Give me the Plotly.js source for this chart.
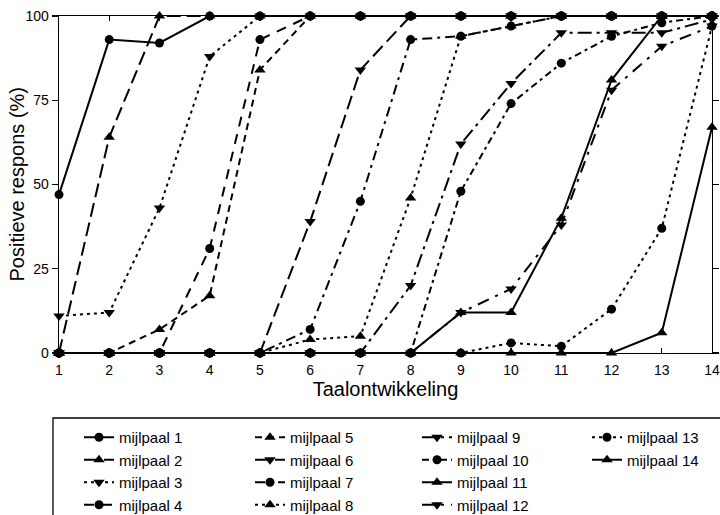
<!DOCTYPE html>
<html>
<head>
<meta charset="utf-8">
<script src="https://cdn.plot.ly/plotly-3.0.1.min.js"></script>
<style>html,body{margin:0;padding:0;background:#fff;}#chart{width:720px;height:515px;}</style>
</head>
<body>
<div id="chart"></div>
<script>
// Data
const stages = [1, 2, 3, 4, 5, 6, 7, 8, 9, 10, 11, 12, 13, 14];
const seriesNames = ["mijlpaal 1","mijlpaal 2","mijlpaal 3","mijlpaal 4","mijlpaal 5","mijlpaal 6","mijlpaal 7","mijlpaal 8","mijlpaal 9","mijlpaal 10","mijlpaal 11","mijlpaal 12","mijlpaal 13","mijlpaal 14"];
const m1  = [47, 93, 92, 100, 100, 100, 100, 100, 100, 100, 100, 100, 100, 100];
const m2  = [0, 64, 100, 100, 100, 100, 100, 100, 100, 100, 100, 100, 100, 100];
const m3  = [11, 12, 43, 88, 100, 100, 100, 100, 100, 100, 100, 100, 100, 100];
const m4  = [0, 0, 0, 31, 93, 100, 100, 100, 100, 100, 100, 100, 100, 100];
const m5  = [0, 0, 7, 17, 84, 100, 100, 100, 100, 100, 100, 100, 100, 100];
const m6  = [0, 0, 0, 0, 0, 39, 84, 100, 100, 100, 100, 100, 100, 100];
const m7  = [0, 0, 0, 0, 0, 7, 45, 93, 94, 97, 100, 100, 100, 100];
const m8  = [0, 0, 0, 0, 0, 4, 5, 46, 94, 97, 100, 100, 100, 100];
const m9  = [0, 0, 0, 0, 0, 0, 0, 20, 62, 80, 95, 95, 95, 99];
const m10 = [0, 0, 0, 0, 0, 0, 0, 0, 48, 74, 86, 94, 98, 100];
const m11 = [0, 0, 0, 0, 0, 0, 0, 0, 12, 12, 40, 81, 100, 100];
const m12 = [0, 0, 0, 0, 0, 0, 0, 0, 12, 19, 38, 78, 91, 97];
const m13 = [0, 0, 0, 0, 0, 0, 0, 0, 0, 3, 2, 13, 37, 97];
const m14 = [0, 0, 0, 0, 0, 0, 0, 0, 0, 0, 0, 0, 6, 67];
const seriesValues = [m1, m2, m3, m4, m5, m6, m7, m8, m9, m10, m11, m12, m13, m14];
const yTickVals = [0, 25, 50, 75, 100];
const xTitle = "Taalontwikkeling";
const yTitle = "Positieve respons (%)";

// Styles
const dashes = ["solid","14px,6px","3px,4px","10px,8px","7px,5px","14px,6px","10px,5px,3px,5px","3px,4px","14px,5px,3px,5px","7px,4px,3px,4px","solid","12px,7px,3px,7px","3px,4px","solid"];
const symbols = ["circle","triangle-up","triangle-down","circle","triangle-up","triangle-down","circle","triangle-up","triangle-down","circle","triangle-up","triangle-down","circle","triangle-up"];
const legendOf = ["legend","legend","legend","legend","legend2","legend2","legend2","legend2","legend3","legend3","legend3","legend3","legend4","legend4"];

const FONT = "Liberation Sans, Arial, sans-serif";

const traces = seriesNames.map((name, i) => ({
  type: "scatter",
  mode: "lines+markers",
  name: name,
  x: stages,
  y: seriesValues[i],
  legend: legendOf[i],
  cliponaxis: false,
  line: {color: "#000", width: 2, dash: dashes[i]},
  marker: {color: "#000", symbol: symbols[i], size: symbols[i] === "circle" ? 9 : 10}
}));

function leg(xpx, ypx) {
  return {
    x: xpx / 720, y: 1 - ypx / 515, xref: "container", yref: "container",
    xanchor: "left", yanchor: "top", orientation: "v",
    bgcolor: "rgba(0,0,0,0)", borderwidth: 0, tracegroupgap: 0,
    font: {family: FONT, size: 15, color: "#000"}
  };
}

const layout = {
  width: 720, height: 515,
  margin: {l: 59, r: 8, t: 16, b: 162, autoexpand: false},
  paper_bgcolor: "#fff", plot_bgcolor: "#fff",
  font: {family: FONT, color: "#000"},
  showlegend: true,
  xaxis: {
    range: [1, 14], tickmode: "array", tickvals: stages, ticktext: stages.map(String),
    ticks: "inside", ticklen: 5, tickwidth: 1.2, tickcolor: "#000",
    showline: true, linecolor: "#000", linewidth: 1.3, mirror: "ticks",
    showgrid: false, zeroline: false, ticklabelstandoff: 4,
    tickfont: {family: FONT, size: 14, color: "#000"},
    title: {text: xTitle, font: {family: FONT, size: 20, color: "#000"}, standoff: 2}
  },
  yaxis: {
    range: [0, 100], tickmode: "array", tickvals: yTickVals,
    ticks: "outside", ticklen: 6, tickwidth: 1.2, tickcolor: "#000",
    showline: true, linecolor: "#000", linewidth: 1.3, mirror: "ticks",
    showgrid: false, zeroline: false,
    tickfont: {family: FONT, size: 14, color: "#000"}
  },
  annotations: [{
    text: yTitle, textangle: -90, showarrow: false,
    xref: "paper", yref: "paper", x: (16 - 59) / 653, y: 0.5,
    xanchor: "center", yanchor: "middle",
    font: {family: FONT, size: 20, color: "#000"}
  }],
  legend: leg(79, 421),
  legend2: leg(250, 421),
  legend3: leg(417, 421),
  legend4: leg(587, 421),
  shapes: [{
    type: "rect", xref: "paper", yref: "paper",
    x0: (53 - 59) / 653, x1: 1.03, y0: -0.55, y1: (353 - 418) / 337,
    line: {color: "#000", width: 1.3}, fillcolor: "rgba(0,0,0,0)", layer: "above"
  }]
};

Plotly.newPlot("chart", traces, layout, {displayModeBar: false, staticPlot: true});
</script>
</body>
</html>
